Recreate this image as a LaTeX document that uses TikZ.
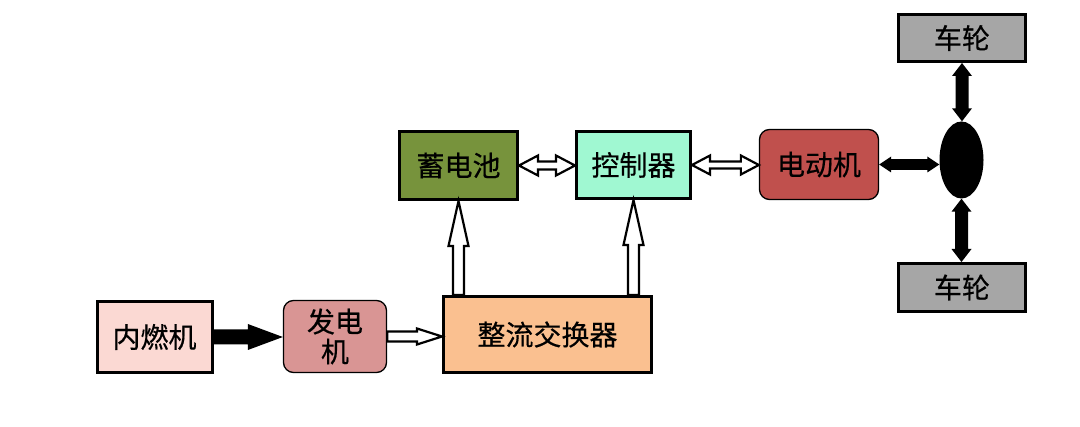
\documentclass[tikz,border=0pt]{standalone}
\usepackage{fontspec}
\newfontfamily\cjk[FakeBold=0.5]{Noto Sans CJK SC}
\usetikzlibrary{calc,shapes.geometric}
\definecolor{icecol}{HTML}{FBD9D3}
\definecolor{gencol}{HTML}{D99594}
\definecolor{rectcol}{HTML}{FAC090}
\definecolor{batcol}{HTML}{77933C}
\definecolor{ctlcol}{HTML}{A0F8D2}
\definecolor{motcol}{HTML}{C0504D}
\definecolor{wheelcol}{HTML}{A6A6A6}
\newcommand\dblH[6]{%
 \path[#1] let \p1=#2, \p2=#3 in (\x1,\y1) -- (\x1+#4,\y1+#5) -- (\x1+#4,\y1+#6) -- (\x2-#4,\y1+#6) -- (\x2-#4,\y1+#5) -- (\x2,\y1) -- (\x2-#4,\y1-#5) -- (\x2-#4,\y1-#6) -- (\x1+#4,\y1-#6) -- (\x1+#4,\y1-#5) -- cycle;}
\newcommand\dblV[6]{%
 \path[#1] let \p1=#2, \p2=#3 in (\x1,\y1) -- (\x1+#5,\y1-#4) -- (\x1+#6,\y1-#4) -- (\x1+#6,\y2+#4) -- (\x1+#5,\y2+#4) -- (\x1,\y2) -- (\x1-#5,\y2+#4) -- (\x1-#6,\y2+#4) -- (\x1-#6,\y1-#4) -- (\x1-#5,\y1-#4) -- cycle;}
\newcommand\singleUp[6]{%
 \path[#1] let \p1=#2, \p2=#3 in (\x1,\y1) -- (\x1+#5,\y1-#4) -- (\x1+#6,\y1-#4) -- (\x1+#6,\y2) -- (\x1-#6,\y2) -- (\x1-#6,\y1-#4) -- (\x1-#5,\y1-#4) -- cycle;}
\newcommand\singleR[6]{%
 \path[#1] let \p1=#2, \p2=#3 in (\x1,\y1+#6) -- (\x2-#4,\y1+#6) -- (\x2-#4,\y1+#5) -- (\x2,\y1) -- (\x2-#4,\y1-#5) -- (\x2-#4,\y1-#6) -- (\x1,\y1-#6) -- cycle;}
\tikzset{
 box/.style={draw=black, line width=3pt, inner sep=0pt, font=\cjk\fontsize{28}{30}\selectfont, text=black},
 rbox/.style={box, line width=1.3pt, rounded corners=10pt},
 hollow/.style={draw=black, fill=white, line width=2.2pt, line join=miter},
 blackarrow/.style={fill=black},
}
\begin{document}
\begin{tikzpicture}[x=1pt,y=-1pt]
\useasboundingbox[fill=white] (0,0) rectangle (1080,427);
\node[box, fill=icecol, minimum width=115pt, minimum height=71pt] (ice) at (154.5,337) {内燃机};
\node[rbox, fill=gencol, minimum width=103pt, minimum height=72pt, align=center] (gen) at (335,336.5) {发电\\机};
\node[box, fill=rectcol, minimum width=208pt, minimum height=76pt] (rect) at (547.5,334.5) {整流交换器};
\node[box, fill=batcol, minimum width=118pt, minimum height=68pt] (bat) at (458.5,165.5) {蓄电池};
\node[box, fill=ctlcol, minimum width=114pt, minimum height=67pt] (ctl) at (633.5,165) {控制器};
\node[rbox, fill=motcol, minimum width=119pt, minimum height=70pt] (mot) at (819,164.5) {电动机};
\node[ellipse, fill=black, inner sep=0pt, minimum width=44pt, minimum height=77pt] (ell) at (961.5,160) {};
\node[box, fill=wheelcol, minimum width=127pt, minimum height=47pt] (w1) at (962,38) {车轮};
\node[box, fill=wheelcol, minimum width=127pt, minimum height=48pt] (w2) at (962,287.5) {车轮};
% connectors
\singleR{blackarrow}{(ice.east)}{(gen.west)}{35pt}{13pt}{7.5pt}
\singleR{hollow}{(gen.east)}{(rect.west)}{25pt}{8pt}{5pt}
\singleUp{hollow}{(bat.south)}{(rect.north)}{45pt}{10pt}{5.5pt}
\singleUp{hollow}{(ctl.south)}{(rect.north)}{45pt}{10pt}{5.5pt}
\dblH{hollow}{(bat.east)}{(ctl.west)}{19pt}{10pt}{4pt}
\dblH{hollow}{(ctl.east)}{(mot.west)}{18pt}{9.5pt}{3.5pt}
\dblH{blackarrow}{(mot.east)}{(ell.west)}{12pt}{8pt}{5.3pt}
\dblV{blackarrow}{(w1.south)}{(ell.north)}{13pt}{10pt}{6.5pt}
\dblV{blackarrow}{(ell.south)}{(w2.north)}{13pt}{10pt}{6.5pt}
\end{tikzpicture}
\end{document}
